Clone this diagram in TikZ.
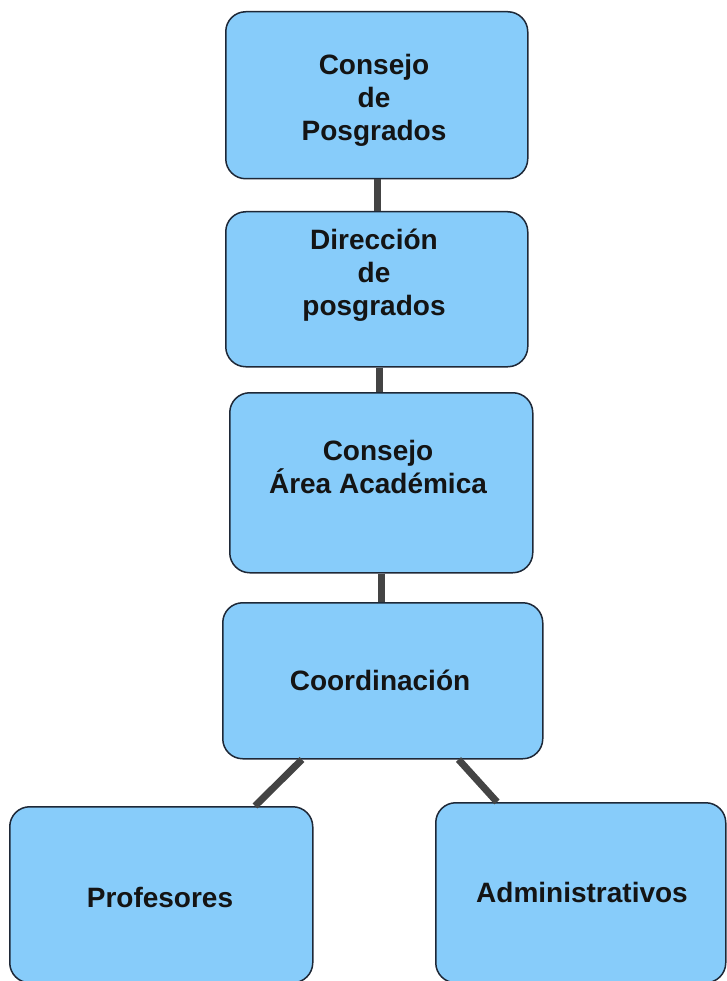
\documentclass[tikz,border=0pt]{standalone}
\usepackage{fontspec}
\setmainfont{Liberation Sans}
\usetikzlibrary{calc}
\definecolor{boxfill}{RGB}{135,204,250}
\definecolor{boxline}{RGB}{30,40,55}
\definecolor{connc}{RGB}{68,68,68}
\begin{document}
\begin{tikzpicture}[x=1pt,y=-1pt,
  box/.style={draw=boxline,fill=boxfill,line width=1.5pt,rounded corners=20pt,inner sep=0pt,anchor=north west},
  lbl/.style={font=\fontsize{28}{33}\selectfont\bfseries,align=center,text=black!92,inner sep=0pt},
  conn/.style={draw=connc,line width=7pt}]
\useasboundingbox (0,0) rectangle (726,981);
% boxes
\node[box,minimum width=302pt,minimum height=167pt] (b1) at (225,11) {};
\node[box,minimum width=302pt,minimum height=155pt] (b2) at (225,211) {};
\node[box,minimum width=303pt,minimum height=180pt] (b3) at (229,392) {};
\node[box,minimum width=320pt,minimum height=156pt] (b4) at (222,602) {};
\node[box,minimum width=303pt,minimum height=176pt] (b5) at (9,806) {};
\node[box,minimum width=290pt,minimum height=180pt] (b6) at (435,802) {};
% connectors
\draw[conn] ($(b1.south)+(1,0)$) -- ($(b1.south |- b2.north)+(1,0)$);
\draw[conn] ($(b2.south)+(3,0)$) -- ($(b2.south |- b3.north)+(3,0)$);
\draw[conn] ($(b3.south)+(0,0)$) -- ($(b3.south |- b4.north)+(0,0)$);
\draw[conn] ($(b4.south west)+(80,0)$) -- ($(b5.north west)+(246,0)$);
\draw[conn] ($(b4.south east)+(-85,0)$) -- ($(b6.north west)+(62,0)$);
% labels
\node[lbl] (t1) at (374,100) {Consejo\\de\\Posgrados};
\node[lbl] (t2) at (374,275) {Dirección\\de\\posgrados};
\node[lbl] (t3) at (378,467) {Consejo\\Área Académica};
\node[lbl] (t4) at (380,680) {Coordinación};
\node[lbl] (t5) at (160,897) {Profesores};
\node[lbl] (t6) at (582,892) {Administrativos};
\end{tikzpicture}
\end{document}
